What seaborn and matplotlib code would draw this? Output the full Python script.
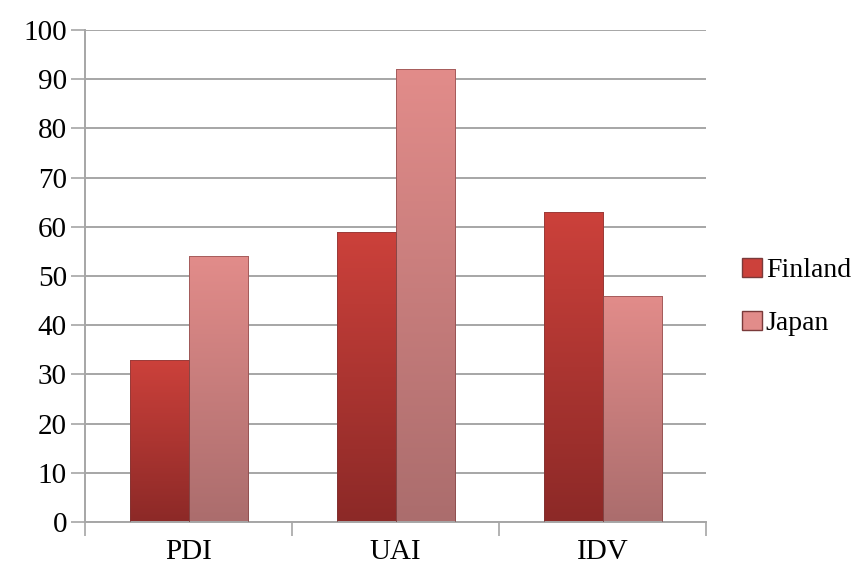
import numpy as np
import pandas as pd
import seaborn as sns
from matplotlib import pyplot as plt
from matplotlib.colors import LinearSegmentedColormap

categories = ["PDI", "UAI", "IDV"]
finland = [33, 59, 63]
japan = [54, 92, 46]
countries = ["Finland", "Japan"]

df = pd.DataFrame({
    "dimension": categories * 2,
    "score": finland + japan,
    "country": ["Finland"] * 3 + ["Japan"] * 3,
})

# top / bottom colours of the bevelled gradient bars
grad = {"Finland": ("#cc413b", "#8c2927"), "Japan": ("#e28c8a", "#ab6d6d")}
grid_col = "#a6a6a6"

sns.set_style("white")
plt.rcParams["font.family"] = ["Liberation Serif", "DejaVu Serif"]
plt.rcParams["text.color"] = "black"
plt.rcParams["xtick.labelcolor"] = "black"
plt.rcParams["ytick.labelcolor"] = "black"

fig = plt.figure(figsize=(8.64, 5.75), dpi=100)
ax = fig.add_axes([0.0984, 0.092, 0.719, 0.856])

sns.barplot(data=df, x="dimension", y="score", hue="country", order=categories,
            hue_order=countries, palette={c: grad[c][0] for c in countries},
            width=0.57, gap=0, ax=ax, zorder=3, legend=True)

# replace flat fill with vertical gradient clipped to each bar
for container, country in zip(ax.containers, countries):
    cmap = LinearSegmentedColormap.from_list(country, [grad[country][1], grad[country][0]])
    for patch in container:
        x0, y0 = patch.get_x(), patch.get_y()
        w, h = patch.get_width(), patch.get_height()
        patch.set_facecolor("none")
        patch.set_edgecolor("#7a3a3a")
        patch.set_linewidth(0.4)
        img = ax.imshow(np.linspace(0, 1, 256).reshape(-1, 1), cmap=cmap, origin="lower",
                        extent=(x0, x0 + w, y0, y0 + h), aspect="auto", zorder=2.5)
        img.set_clip_path(patch)

ax.set_xlim(-0.5, 2.5)
ax.set_ylim(0, 100)
ax.set_yticks(range(0, 101, 10))
ax.set_xticks([-0.5, 0.5, 1.5, 2.5], minor=False)
ax.set_xticklabels([])
ax.set_xticks([0, 1, 2], minor=True)
ax.set_xticklabels(categories, minor=True)
ax.tick_params(axis="x", which="major", direction="out", length=10, width=1.2, color=grid_col, bottom=True)
ax.tick_params(axis="x", which="minor", length=0, labelsize=21, pad=12, labelcolor="black")
ax.tick_params(axis="y", direction="out", length=10, width=1.2, color=grid_col, left=True,
               labelsize=21, pad=3, labelcolor="black")
ax.yaxis.grid(True, color=grid_col, linewidth=1.4, zorder=0)
ax.set_axisbelow(True)
ax.set_xlabel("")
ax.set_ylabel("")
for side in ["top", "right"]:
    ax.spines[side].set_visible(False)
for side in ["left", "bottom"]:
    ax.spines[side].set_color(grid_col)
    ax.spines[side].set_linewidth(1.4)

handles, labels = ax.get_legend_handles_labels()
for hnd, c in zip(handles, countries):
    hnd.set_facecolor(grad[c][0])
    hnd.set_edgecolor("#7a3a3a")
ax.legend(handles, labels, loc="center left", bbox_to_anchor=(1.04, 0.457), frameon=False,
          fontsize=20, handlelength=0.7, handleheight=0.7, handletextpad=0.15, labelspacing=1.0,
          borderaxespad=0, labelcolor="black")

fig.savefig("out.png", dpi=100)
